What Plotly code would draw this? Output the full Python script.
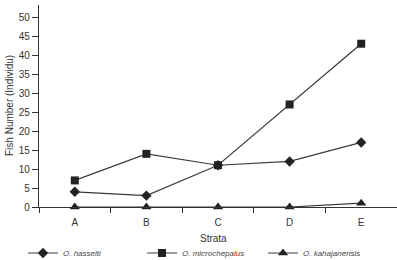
import plotly.graph_objects as go

strata = ["A", "B", "C", "D", "E"]
hasselti = [4, 3, 11, 12, 17]
microchepalus = [7, 14, 11, 27, 43]
kahajanensis = [0, 0, 0, 0, 1]
y_ticks = list(range(0, 55, 5))

line_col = "#3a3a3a"
mark_col = "#222222"

PLOT_BOTTOM = 207
PLOT_H = 202
PLOT_L = 39
PLOT_W = 358


def py(px):
    return (PLOT_BOTTOM - px) / PLOT_H


def pxx(px):
    return (px - PLOT_L) / PLOT_W


fig = go.Figure()
series = [
    ("O. hasselti", hasselti, "diamond", 8, "legend", 62),
    ("O. microchepalus", microchepalus, "square", 8, "legend2", 181),
    ("O. kahajanensis", kahajanensis, "triangle-up", 9, "legend3", 302),
]
leg_font = dict(size=8, color="#444", style="italic")
for name, vals, sym, size, leg, _ in series:
    fig.add_trace(go.Scatter(
        x=strata, y=vals, name=name, mode="lines+markers",
        line=dict(color=line_col, width=1.2),
        marker=dict(symbol=sym, size=size, color=mark_col),
        cliponaxis=False, legend=leg,
    ))

legends = {}
for name, vals, sym, size, leg, text_x in series:
    legends[leg] = dict(
        orientation="h", x=pxx(text_x - 39), xanchor="left", y=py(253), yanchor="middle",
        font=leg_font, itemclick=False, borderwidth=0, bgcolor="rgba(0,0,0,0)",
    )

fig.update_layout(
    width=397, height=260,
    margin=dict(l=PLOT_L, r=0, t=5, b=260 - PLOT_BOTTOM, autoexpand=False),
    paper_bgcolor="white", plot_bgcolor="white",
    font=dict(family="Liberation Sans, Arial, sans-serif", size=10, color="#333"),
    showlegend=True,
    annotations=[
        dict(text="Strata", x=pxx(213), xref="paper", y=py(239), yref="paper",
             yanchor="middle", showarrow=False, font=dict(size=10, color="#333")),
        dict(text="Fish Number (Individu)", textangle=-90, x=pxx(9), xref="paper",
             xanchor="center", y=0.5, yref="paper", showarrow=False,
             font=dict(size=10, color="#333")),
    ],
    **legends,
)

fig.update_xaxes(
    type="category", range=[-0.5, 4.5],
    showline=True, linecolor="#333", linewidth=1.2,
    ticks="outside", ticklen=5, tickcolor="#333", tickson="boundaries",
    ticklabelstandoff=6,
    showgrid=False, zeroline=False, tickfont=dict(size=10, color="#333"),
)
fig.update_yaxes(
    range=[0, 53.2], tickvals=y_ticks,
    showline=True, linecolor="#333", linewidth=1.2,
    ticks="outside", ticklen=6, tickcolor="#333",
    showgrid=False, zeroline=False, tickfont=dict(size=10, color="#333"),
)

fig.write_html("out.html")
